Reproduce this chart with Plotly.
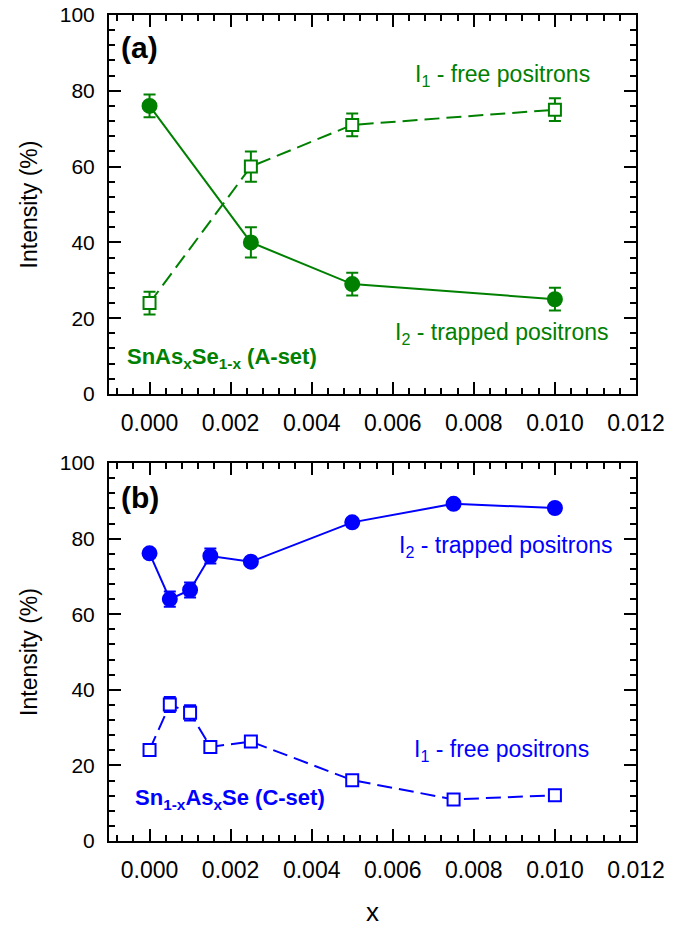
import plotly.graph_objects as go

# ---- Data ----
# (a) SnAs_xSe_1-x (A-set)
xa = [0.0, 0.0025, 0.005, 0.010]
a_I2 = [76, 40, 29, 25]
a_I2_err = [3, 4, 3, 3]
a_I1 = [24, 60, 71, 75]
a_I1_err = [3, 4, 3, 3]

# (b) Sn_1-xAs_xSe (C-set)
xb = [0.0, 0.0005, 0.0010, 0.0015, 0.0025, 0.005, 0.0075, 0.010]
b_I2 = [76.1, 64.0, 66.4, 75.4, 73.9, 84.3, 89.2, 88.1]
b_I2_err = [1, 2, 2, 2, 1, 1, 1, 1]
b_I1 = [24.1, 36.1, 33.9, 24.9, 26.3, 16.1, 11.0, 12.1]
b_I1_err = [1, 2, 2, 1, 1, 1, 1, 1]

x_tickvals = [0, 0.002, 0.004, 0.006, 0.008, 0.010, 0.012]
x_ticktext = ["0.000", "0.002", "0.004", "0.006", "0.008", "0.010", "0.012"]
y_tickvals = [0, 20, 40, 60, 80, 100]

GREEN = "#008000"
BLUE = "#0000FF"
FONT = "Liberation Sans, Arial, sans-serif"

fig = go.Figure()


def add_series(x, y, err, color, filled, dashed, xaxis, yaxis):
    fig.add_trace(go.Scatter(
        x=x, y=y, mode="lines+markers",
        xaxis=xaxis, yaxis=yaxis,
        line=dict(color=color, width=2, dash="15px,7px" if dashed else "solid"),
        marker=dict(
            symbol="circle" if filled else "square",
            size=14 if filled else 12,
            color=color if filled else "white",
            line=dict(color=color, width=2),
        ),
        error_y=dict(type="data", array=err, visible=True,
                     color=color, thickness=2, width=6),
        showlegend=False,
    ))


add_series(xa, a_I2, a_I2_err, GREEN, True, False, "x", "y")
add_series(xa, a_I1, a_I1_err, GREEN, False, True, "x", "y")
add_series(xb, b_I2, b_I2_err, BLUE, True, False, "x2", "y2")
add_series(xb, b_I1, b_I1_err, BLUE, False, True, "x2", "y2")


def xaxis_cfg(anchor, show_title):
    d = dict(
        range=[-0.001, 0.012], anchor=anchor, automargin=False,
        tickmode="array", tickvals=x_tickvals, ticktext=x_ticktext,
        ticks="inside", ticklen=12, tickwidth=2, tickcolor="black",
        minor=dict(tick0=0, dtick=0.0004, ticks="inside", ticklen=6,
                   tickwidth=2, tickcolor="black"),
        showline=True, linecolor="black", linewidth=2, mirror="ticks",
        showgrid=False, zeroline=False,
        tickfont=dict(family=FONT, size=23, color="black"),
        ticklabelstandoff=7,
    )
    if show_title:
        d["title"] = dict(text="x", font=dict(family=FONT, size=26, color="black"),
                          standoff=40)
    return d


def yaxis_cfg(anchor, domain):
    return dict(
        range=[0, 100], anchor=anchor, domain=domain, automargin=False,
        tickmode="array", tickvals=y_tickvals,
        ticks="inside", ticklen=12, tickwidth=2, tickcolor="black",
        minor=dict(tick0=0, dtick=4, ticks="inside", ticklen=6,
                   tickwidth=2, tickcolor="black"),
        showline=True, linecolor="black", linewidth=2, mirror="ticks",
        showgrid=False, zeroline=False,
        tickfont=dict(family=FONT, size=21, color="black"),
        ticklabelstandoff=8,
        title=dict(text="Intensity (%)",
                   font=dict(family=FONT, size=23, color="black"), standoff=16),
    )


fig.update_layout(
    width=689, height=927,
    margin=dict(l=109, r=53, t=15, b=86),
    paper_bgcolor="white", plot_bgcolor="white",
    font=dict(family=FONT, color="black"),
    xaxis=xaxis_cfg("y", False),
    yaxis=yaxis_cfg("x", [0.5412, 1.0]),
    xaxis2=xaxis_cfg("y2", True),
    yaxis2=yaxis_cfg("x2", [0.0, 0.4576]),
)


def label(text, x, y, xref, yref, color, size, bold=False):
    if bold:
        text = "<b>" + text + "</b>"
    fig.add_annotation(text=text, x=x, y=y, xref=xref, yref=yref,
                       xanchor="left", yanchor="middle", showarrow=False,
                       font=dict(family=FONT, size=size, color=color))


# panel (a) labels
label("(a)", -0.00075, 91.5, "x", "y", "black", 30, bold=True)
label("I<sub>1</sub> - free positrons", 0.0065, 84, "x", "y", GREEN, 23)
label("I<sub>2</sub> - trapped positrons", 0.0060, 16, "x", "y", GREEN, 23)
label("SnAs<sub>x</sub>Se<sub>1-x</sub> (A-set)", -0.00060, 9.5, "x", "y", GREEN, 22, bold=True)

# panel (b) labels
label("(b)", -0.00075, 91.0, "x2", "y2", "black", 30, bold=True)
label("I<sub>2</sub> - trapped positrons", 0.0061, 78, "x2", "y2", BLUE, 23)
label("I<sub>1</sub> - free positrons", 0.00647, 24, "x2", "y2", BLUE, 23)
label("Sn<sub>1-x</sub>As<sub>x</sub>Se (C-set)", -0.00040, 11, "x2", "y2", BLUE, 22, bold=True)

fig.write_html("out.html")
